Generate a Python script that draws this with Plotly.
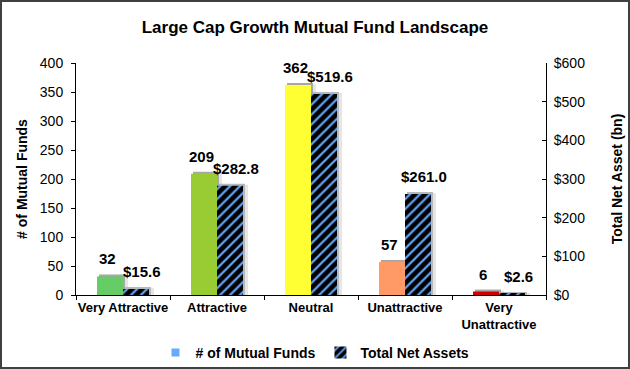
import plotly.graph_objects as go

categories = ["Very Attractive", "Attractive", "Neutral", "Unattractive", "Very<br>Unattractive"]
num_funds = [32, 209, 362, 57, 6]
net_assets = [15.6, 282.8, 519.6, 261.0, 2.6]
fund_labels = ["32", "209", "362", "57", "6"]
asset_labels = ["$15.6", "$282.8", "$519.6", "$261.0", "$2.6"]
bar_colors = ["#66CC66", "#99CC33", "#FFFF33", "#FF9966", "#CC0000"]

W, H = 630, 369
L, R, T, B = 76, 84, 63, 74
PW, PH = W - L - R, H - T - B
CAT_PX = PW / len(categories)
BW = 26 / CAT_PX          # bar width in category units
Y1_MAX, Y2_MAX = 400, 600

FONT = "Liberation Sans, Arial, sans-serif"

fig = go.Figure()


def shadow(vals, ymax, axis, off, dx_px, dy_px, color):
    dy = dy_px * ymax / PH
    fig.add_trace(go.Bar(
        x=categories, y=[v + dy for v in vals], width=BW, offset=off + dx_px / CAT_PX,
        marker=dict(color=color, line=dict(width=0)), yaxis=axis,
        showlegend=False, hoverinfo="skip"))


# soft shadows behind bars
shadow(num_funds, Y1_MAX, "y", -BW, 5, 1, "#E6E6E6")
shadow(num_funds, Y1_MAX, "y", -BW, 2, 2, "#A8A8A8")

fig.add_trace(go.Bar(
    x=categories, y=num_funds, name="<b># of Mutual Funds</b>", width=BW, offset=-BW,
    marker=dict(color=bar_colors, line=dict(width=0)),
    yaxis="y", showlegend=False,
))

shadow(net_assets, Y2_MAX, "y2", 0, 5, 1, "#E6E6E6")
shadow(net_assets, Y2_MAX, "y2", 0, 2, 2, "#B8B8B8")

fig.add_trace(go.Bar(
    x=categories, y=net_assets, name="<b>Total Net Assets</b>", width=BW, offset=0,
    marker=dict(color="black", line=dict(width=0),
                pattern=dict(shape="/", fgcolor="#66AAFF", bgcolor="black",
                             size=7, solidity=0.32, fillmode="replace")),
    yaxis="y2", legendrank=2,
))
# legend proxy for the first series
fig.add_trace(go.Scatter(
    x=[None], y=[None], mode="markers", name="<b># of Mutual Funds</b>",
    marker=dict(symbol="square", size=8, color="#66AAFF"),
    legendrank=1,
))

# value labels
for c, v, t in zip(categories, num_funds, fund_labels):
    fig.add_annotation(x=c, y=v, yref="y", xref="x", text="<b>%s</b>" % t,
                       showarrow=False, xshift=-16, yshift=7, yanchor="bottom",
                       font=dict(size=15, color="black", family=FONT))
for c, v, t in zip(categories, net_assets, asset_labels):
    fig.add_annotation(x=c, y=v, yref="y2", xref="x", text="<b>%s</b>" % t,
                       showarrow=False, xshift=19, yshift=7, yanchor="bottom",
                       font=dict(size=15, color="black", family=FONT))

# border around the whole figure
fig.add_shape(type="rect", xref="paper", yref="paper",
              x0=(1 - L) / PW, x1=(W - 1 - L) / PW,
              y0=(1 - B) / PH, y1=(H - 1 - B) / PH,
              line=dict(color="#404040", width=2), fillcolor="rgba(0,0,0,0)", layer="above")

fig.update_layout(
    width=W, height=H,
    margin=dict(l=L, r=R, t=T, b=B, autoexpand=False),
    paper_bgcolor="white", plot_bgcolor="white",
    font=dict(family=FONT, color="black", size=14),
    title=dict(text="<b>Large Cap Growth Mutual Fund Landscape</b>",
               x=0.5, xanchor="center", y=1 - 27 / H, yanchor="middle",
               font=dict(size=17, family=FONT)),
    barmode="overlay",
    xaxis=dict(showline=True, linecolor="black", linewidth=1,
               ticks="outside", ticklen=4, tickcolor="black", tickson="boundaries",
               tickfont=dict(size=13), showgrid=False, tickangle=0, automargin=False,
               tickprefix="<b>", ticksuffix="</b>"),
    yaxis=dict(range=[0, Y1_MAX], dtick=50, showline=True, linecolor="black", linewidth=1,
               ticks="outside", ticklen=4, tickcolor="black", showgrid=False, zeroline=False,
               ticklabelstandoff=5, automargin=False,
               title=dict(text="<b># of Mutual Funds</b>", font=dict(size=14), standoff=8),
               tickfont=dict(size=14)),
    yaxis2=dict(range=[0, Y2_MAX], dtick=100, overlaying="y", side="right",
                showline=True, linecolor="black", linewidth=1,
                ticks="inside", ticklen=4, tickcolor="black", showgrid=False, zeroline=False,
                tickprefix="$", ticklabelstandoff=4, automargin=False,
                title=dict(text="<b>Total Net Asset (bn)</b>", font=dict(size=14), standoff=28),
                tickfont=dict(size=14)),
    legend=dict(orientation="h", x=0.5, xanchor="center", xref="container",
                y=1 - 353 / H, yref="container", bgcolor="rgba(0,0,0,0)",
                yanchor="middle", font=dict(size=14), traceorder="normal",
                itemwidth=30),
    showlegend=True,
)

fig.write_html("out.html", config={"displayModeBar": False},
               post_script="document.body.style.margin='0px';")
